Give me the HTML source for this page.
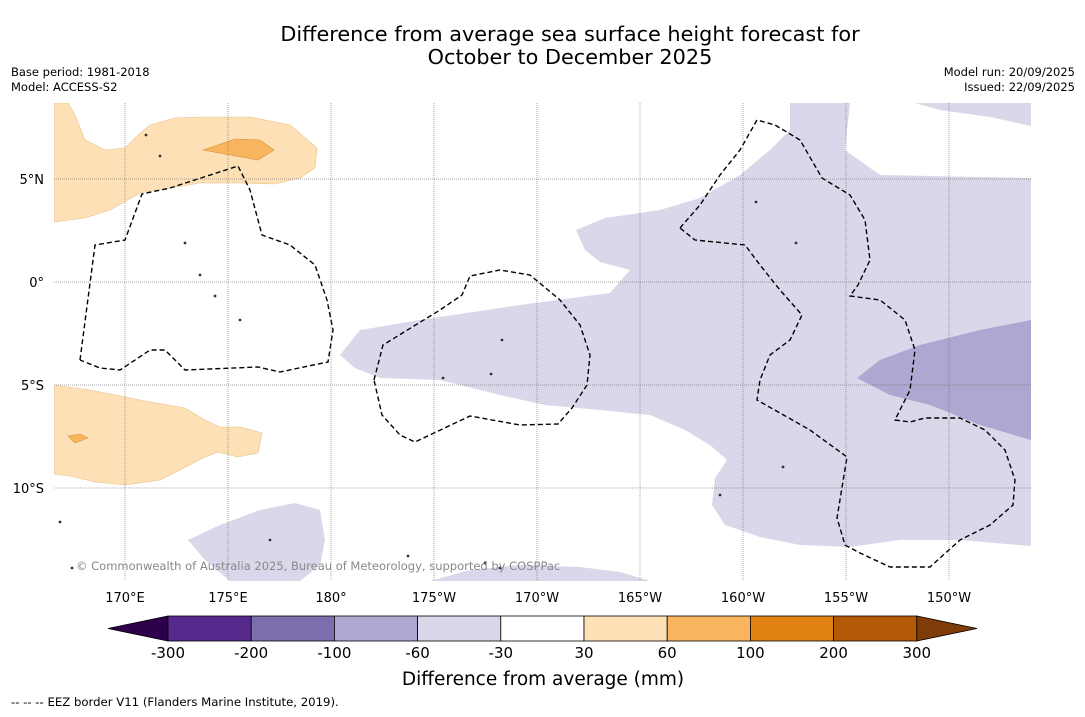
<!DOCTYPE html>
<html><head><meta charset="utf-8"><style>
body{margin:0;background:#fff;width:1085px;height:713px;overflow:hidden;font-family:"DejaVu Sans",sans-serif}
</style></head><body>
<svg width="1085" height="713" viewBox="0 0 1085 713" xmlns="http://www.w3.org/2000/svg" font-family="DejaVu Sans, sans-serif">
<text x="570" y="41" font-size="20.8" text-anchor="middle">Difference from average sea surface height forecast for</text>
<text x="570" y="64" font-size="20.8" text-anchor="middle">October to December 2025</text>
<text x="11" y="76" font-size="11.5">Base period: 1981-2018</text>
<text x="11" y="91" font-size="11.5">Model: ACCESS-S2</text>
<text x="1075" y="76" font-size="11.5" text-anchor="end">Model run: 20/09/2025</text>
<text x="1075" y="91" font-size="11.5" text-anchor="end">Issued: 22/09/2025</text>
<g id="map"></g>
<g id="cbar"></g>
<text x="543" y="685" font-size="18.5" text-anchor="middle">Difference from average (mm)</text>
<text x="11" y="706" font-size="11.7">--  --  -- EEZ border V11 (Flanders Marine Institute, 2019).</text>
</svg>
<script>
const NS="http://www.w3.org/2000/svg";
const lonTicks=[170,175,180,185,190,195,200,205,210];
const lonLabels=["170°E","175°E","180°","175°W","170°W","165°W","160°W","155°W","150°W"];
const latTicks=[5,0,-5,-10];
const latLabels=["5°N","0°","5°S","10°S"];
const cbBounds=[-300,-200,-100,-60,-30,30,60,100,200,300];
const cbColors=["#552a8c","#7c6eac","#ada8d1","#d8d8ea","#ffffff","#fde0b5","#f9b55e","#e08214","#b25a08"];
const cbUnder="#2d004b", cbOver="#7f3b08";
const px=l=>331+(l-180)*20.6, py=t=>282-t*20.6;
const map=document.getElementById('map');
function mk(tag,attrs,parent){const e=document.createElementNS(NS,tag);for(const k in attrs)e.setAttribute(k,attrs[k]);(parent||map).appendChild(e);return e;}
const clip=mk('clipPath',{id:'mc'});mk('rect',{x:54,y:103,width:977,height:478},clip);
const g=mk('g',{'clip-path':'url(#mc)'});
function poly(pts,fill,name,stroke){const e=mk('polygon',{points:pts.map(p=>p.join(',')).join(' '),fill:fill,stroke:stroke||'none','stroke-width':0.6},g);

}
poly([[54,103],[68,103],[75,115],[85,140],[105,150],[125,148],[138,135],[150,125],[175,118],[200,117],[250,117],[290,125],[317,148],[315,168],[300,178],[275,184],[240,183],[200,183],[170,188],[140,193],[110,210],[85,218],[54,222]],"#fde0b5","anomaly-positive-north","#e8c08a");
poly([[203,150],[235,139],[260,140],[274,150],[258,160],[230,155]],"#f9b55e","anomaly-high-north","#d89040");
poly([[54,385],[90,390],[140,400],[185,408],[205,420],[220,427],[240,427],[262,433],[258,453],[238,457],[218,452],[203,458],[180,470],[160,480],[125,485],[95,482],[70,476],[54,474]],"#fde0b5","anomaly-positive-south","#e8c08a");
poly([[68,436],[80,434],[88,438],[75,443]],"#f9b55e","anomaly-high-south","#d89040");
poly([[340,355],[360,330],[420,320],[520,305],[610,293],[630,270],[600,262],[585,250],[576,230],[605,218],[660,210],[700,198],[740,175],[770,150],[790,130],[790,103],[850,103],[845,150],[880,175],[1031,178],[1031,546],[960,540],[900,540],[850,547],[800,545],[760,537],[725,525],[712,505],[715,478],[727,460],[710,445],[685,430],[650,415],[600,410],[545,405],[500,395],[440,380],[380,378],[355,368]],"#d8d8ea","anomaly-negative-main");
poly([[915,103],[1031,103],[1031,126],[990,117],[940,110]],"#d8d8ea","anomaly-negative-ne");
poly([[857,378],[880,360],[920,345],[980,330],[1031,320],[1031,440],[980,425],[930,405],[890,395]],"#ada8d1","anomaly-low-east");
poly([[188,540],[220,525],[260,510],[295,503],[320,510],[325,540],[320,565],[300,581],[230,581],[205,560]],"#d8d8ea","anomaly-negative-sw");
poly([[430,581],[470,570],[520,565],[580,567],[620,572],[650,581]],"#d8d8ea","anomaly-negative-south");
lonTicks.forEach((l,i)=>{const x=px(l);
const ln=mk('line',{x1:x,x2:x,y1:103,y2:581,stroke:'#555','stroke-width':0.5,'stroke-dasharray':'1,1'});


const t=mk('text',{x:x,y:602,'font-size':13,'text-anchor':'middle'});t.textContent=lonLabels[i];

});
latTicks.forEach((l,i)=>{const y=py(l);
const ln=mk('line',{x1:54,x2:1031,y1:y,y2:y,stroke:'#555','stroke-width':0.5,'stroke-dasharray':'1,1'});


const t=mk('text',{x:44,y:y+5,'font-size':13,'text-anchor':'end'});t.textContent=latLabels[i];

});
function eez(pts,name){const e=mk('polyline',{points:pts.map(p=>p.join(',')).join(' '),fill:'none',stroke:'#000','stroke-width':1.4,'stroke-dasharray':'5,3'},g);

}
eez([[80,360],[95,245],[125,240],[142,194],[170,188],[238,166],[250,190],[262,235],[290,245],[315,265],[327,300],[333,330],[328,362],[280,372],[258,367],[185,370],[165,350],[150,350],[120,370],[100,368],[80,360]],"eez-gilbert");
eez([[374,380],[383,345],[440,310],[462,295],[470,276],[500,270],[530,275],[560,300],[580,325],[590,355],[587,385],[572,408],[558,424],[520,425],[470,416],[415,442],[400,435],[382,415],[374,380]],"eez-phoenix");
eez([[680,228],[700,205],[720,175],[740,150],[757,120],[775,125],[800,140],[822,178],[850,195],[865,220],[870,260],[858,285],[850,296],[880,300],[905,320],[915,350],[910,390],[895,420],[910,422],[925,418],[960,418],[985,430],[1005,450],[1015,480],[1013,505],[990,525],[960,540],[930,567],[890,567],[860,553],[845,545],[837,518],[847,457],[810,430],[757,400],[760,380],[770,355],[790,340],[802,315],[780,290],[760,265],[745,245],[695,240],[680,228]],"eez-line-islands");
[[146,135],[160,156],[185,243],[200,275],[215,296],[240,320],[502,340],[443,378],[491,374],[756,202],[796,243],[783,467],[720,495],[60,522],[72,568],[485,563],[500,568],[270,540],[408,556]].forEach(p=>{const c=mk('circle',{cx:p[0],cy:p[1],r:1.4,fill:'#333'},g);

});
const cp=mk('text',{x:76,y:570,'font-size':11.5,fill:'#888'});cp.textContent="© Commonwealth of Australia 2025, Bureau of Meteorology, supported by COSPPac";


const cb=document.getElementById('cbar');
const x0=168,w=83.2,y0=616,h=25;
function cmk(tag,attrs){return mk(tag,attrs,cb);}
const u=cmk('polygon',{points:`${x0},${y0} ${x0},${y0+h} 108,${y0+h/2}`,fill:cbUnder,stroke:'#000','stroke-width':0.8});


cbColors.forEach((c,i)=>{const r=cmk('rect',{x:x0+i*w,y:y0,width:w,height:h,fill:c,stroke:'#000','stroke-width':0.8});

});
const xe=x0+cbColors.length*w;
const o=cmk('polygon',{points:`${xe},${y0} ${xe},${y0+h} 977,${y0+h/2}`,fill:cbOver,stroke:'#000','stroke-width':0.8});


cbBounds.forEach((b,i)=>{const t=cmk('text',{x:x0+i*w,y:658,'font-size':15,'text-anchor':'middle'});t.textContent=b;

});
</script>
</body></html>
